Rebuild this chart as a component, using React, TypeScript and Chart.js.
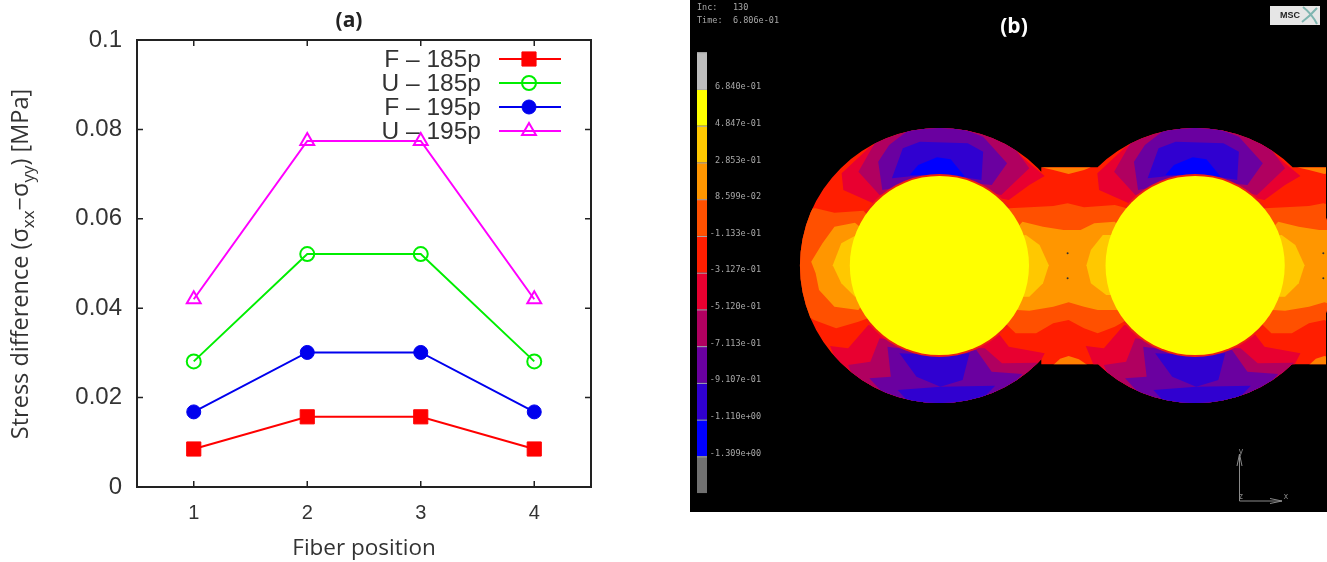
import React, { useEffect, useRef } from "react";
import { Chart, registerables } from "chart.js";
import { drawPoint } from "chart.js/helpers";

Chart.register(...registerables);

// ---------- panel (a) ----------
const fiberPositions = ["1", "2", "3", "4"];
const f185 = [0.0085, 0.0157, 0.0157, 0.0085];
const u185 = [0.0281, 0.0521, 0.0521, 0.0281];
const f195 = [0.0168, 0.0301, 0.0301, 0.0168];
const u195 = [0.042, 0.0774, 0.0774, 0.042];
const seriesNames = ["F – 185p", "U – 185p", "F – 195p", "U – 195p"];
const yTicks = [0, 0.02, 0.04, 0.06, 0.08, 0.1];

// ---------- panel (b) ----------
const barColors = ["#bdbdbd", "#ffff00", "#ffc800", "#ff9600", "#ff5000", "#ff1e00", "#e80030", "#b00060", "#6a00a0", "#3000d0", "#0000ff", "#707070"];
const barLabels = ["6.840e-01", "4.847e-01", "2.853e-01", "8.599e-02", "-1.133e-01", "-3.127e-01", "-5.120e-01", "-7.113e-01", "-9.107e-01", "-1.110e+00", "-1.309e+00"];
const cellShift = [0, 748];
const fiberX = [437, 1185];
const fiberY = 436.5;

type P = [number, number];
const baseRect: P[] = [[0, 0], [1570, 0], [1570, 870], [0, 870]];

const topCrimson: P[] = [[234, 80], [151, 160], [156, 210], [243, 250], [437, 200], [640, 240], [700, 195], [745, 168], [700, 130], [640, 75], [437, 0]];
const topMagenta: P[] = [[250, 65], [200, 155], [262, 225], [437, 190], [618, 225], [700, 145], [640, 60], [437, 0]];
const topPurple: P[] = [[258, 125], [270, 210], [437, 180], [590, 195], [635, 130], [565, 50], [500, 25], [437, 20], [350, 28], [290, 75]];
const topViolet: P[] = [[330, 85], [298, 175], [437, 160], [560, 180], [565, 95], [520, 70], [380, 65]];
const topBlue: P[] = [[350, 165], [375, 135], [430, 112], [470, 118], [512, 170]];

const botCrimson: P[] = [[117, 678], [170, 685], [229, 615], [437, 650], [610, 640], [640, 680], [745, 700], [700, 790], [437, 900], [170, 810]];
const botMagenta: P[] = [[170, 735], [235, 725], [262, 655], [437, 680], [570, 685], [620, 730], [725, 728], [700, 810], [437, 900], [200, 810]];
const botPurple: P[] = [[232, 775], [295, 770], [285, 680], [437, 700], [545, 690], [590, 755], [680, 762], [620, 830], [437, 900], [300, 850]];
const botVioletA: P[] = [[320, 700], [437, 705], [525, 700], [505, 780], [440, 800], [370, 770]];
const botVioletB: P[] = [[315, 810], [440, 800], [600, 797], [560, 840], [437, 870], [350, 850]];

const stripOrangeRed: P[] = [[640, 265], [700, 262], [770, 258], [812, 250], [860, 262], [950, 255], [985, 265], [985, 600], [950, 620], [900, 640], [860, 625], [815, 600], [770, 610], [720, 640], [660, 640], [620, 600], [620, 300]];
const stripOrange: P[] = [[680, 305], [740, 320], [800, 330], [850, 330], [890, 310], [950, 305], [980, 340], [980, 540], [960, 570], [900, 570], [860, 560], [815, 547], [770, 560], [700, 572], [665, 570], [640, 500], [640, 350]];
const stripGoldRight: P[] = [[690, 345], [730, 375], [757, 436], [740, 490], [700, 530], [660, 530], [650, 350]];
const stripGoldLeft: P[] = [[915, 345], [880, 390], [867, 436], [880, 490], [925, 525], [965, 525], [965, 345]];
const stripNotchTop: P[] = [[735, 142], [880, 142], [860, 150], [815, 162], [770, 150]];
const stripNotchBottom: P[] = [[770, 735], [790, 716], [815, 708], [845, 718], [870, 735]];

const capOrangeRed: P[] = [[10, 270], [75, 265], [130, 278], [215, 272], [240, 300], [240, 590], [200, 605], [135, 625], [70, 600], [10, 560]];
const capOrange: P[] = [[190, 308], [130, 320], [95, 370], [62, 425], [75, 460], [85, 510], [130, 560], [200, 570], [250, 500], [240, 350]];
const capGold: P[] = [[195, 345], [150, 370], [125, 436], [150, 490], [190, 530], [240, 500], [240, 370]];

const specks: P[] = [[812, 400], [812, 475], [1560, 400], [1560, 475]];

const shifted = (pts: P[], dx: number) => pts.map(([x, y]) => ({ x: x + dx, y }));

function poly(pts: P[], color: string) {
  return { type: "scatter" as const, data: shifted(pts, 0), backgroundColor: color, borderWidth: 0, borderColor: color, showLine: true, fill: "shape", pointRadius: 0, tension: 0 };
}
function polys(pts: P[], color: string) {
  return cellShift.map((dx) => ({ ...poly(pts, color), data: shifted(pts, dx) }));
}
function ring(r: number, color: string) {
  return { type: "bubble" as const, data: fiberX.map((x) => ({ x, y: fiberY, r })), backgroundColor: color, borderWidth: 0, borderColor: color };
}

const uiFont = "'Liberation Sans', Arial, sans-serif";
const titleFont = "'Open Sans', sans-serif";

const insideTicks = {
  id: "insideTicks",
  afterDatasetsDraw(chart: any) {
    const { ctx, chartArea: a, scales } = chart;
    ctx.save();
    ctx.strokeStyle = "#222";
    ctx.lineWidth = 2;
    ctx.strokeRect(a.left, a.top, a.right - a.left, a.bottom - a.top);
    ctx.lineWidth = 1.5;
    ctx.beginPath();
    fiberPositions.forEach((_, i) => {
      const x = scales.x.getPixelForValue(i);
      ctx.moveTo(x, a.bottom); ctx.lineTo(x, a.bottom - 6);
      ctx.moveTo(x, a.top); ctx.lineTo(x, a.top + 6);
    });
    yTicks.forEach((v) => {
      const y = scales.y.getPixelForValue(v);
      ctx.moveTo(a.left, y); ctx.lineTo(a.left + 6, y);
      ctx.moveTo(a.right, y); ctx.lineTo(a.right - 6, y);
    });
    ctx.stroke();
    ctx.restore();
  },
};

const gnuplotKey = {
  id: "gnuplotKey",
  afterDatasetsDraw(chart: any) {
    const { ctx } = chart;
    ctx.save();
    chart.data.datasets.forEach((d: any, i: number) => {
      const y = 59 + i * 24;
      ctx.font = `24.5px ${uiFont}`;
      ctx.fillStyle = "#333";
      ctx.textAlign = "right";
      ctx.textBaseline = "middle";
      ctx.fillText(seriesNames[i], 481, y + 1);
      ctx.strokeStyle = d.borderColor;
      ctx.lineWidth = 2;
      ctx.beginPath(); ctx.moveTo(499, y); ctx.lineTo(561, y); ctx.stroke();
      ctx.fillStyle = d.pointBackgroundColor;
      ctx.strokeStyle = d.pointBorderColor;
      ctx.lineWidth = d.pointBorderWidth;
      drawPoint(ctx, { pointStyle: d.pointStyle, radius: d.pointRadius, rotation: 0, borderWidth: d.pointBorderWidth }, 529, y);
    });
    ctx.restore();
  },
};

const panelATitle = {
  id: "panelATitle",
  afterDraw(chart: any) {
    const { ctx } = chart;
    ctx.save();
    ctx.fillStyle = "#222";
    ctx.font = `bold 21px ${titleFont}`;
    ctx.textAlign = "center";
    ctx.textBaseline = "middle";
    ctx.fillText("(a)", 349, 21);
    ctx.restore();
  },
};

const stressAxisTitle = {
  id: "stressAxisTitle",
  afterDraw(chart: any) {
    const { ctx } = chart;
    const main = `23.5px ${titleFont}`;
    const sub = `17px ${titleFont}`;
    const pieces: [string, string, number][] = [
      ["Stress difference (σ", main, 0],
      ["xx", sub, 6],
      ["−σ", main, 0],
      ["yy", sub, 6],
      [") [MPa]", main, 0],
    ];
    ctx.save();
    ctx.fillStyle = "#333";
    ctx.textBaseline = "alphabetic";
    ctx.textAlign = "left";
    let total = 0;
    pieces.forEach(([t, f]) => { ctx.font = f; total += ctx.measureText(t).width; });
    ctx.translate(28, 264);
    ctx.rotate(-Math.PI / 2);
    let x = -total / 2;
    pieces.forEach(([t, f, dy]) => {
      ctx.font = f;
      ctx.fillText(t, x, dy);
      x += ctx.measureText(t).width;
    });
    ctx.restore();
  },
};

const shapeClip = {
  id: "shapeClip",
  beforeDatasetsDraw(chart: any) {
    const { ctx, scales } = chart;
    ctx.save();
    ctx.beginPath();
    const cy = scales.y.getPixelForValue(fiberY);
    fiberX.forEach((fx) => {
      const cx = scales.x.getPixelForValue(fx);
      ctx.moveTo(cx + 139.5, cy);
      ctx.ellipse(cx, cy, 139.5, 137.6, 0, 0, Math.PI * 2);
    });
    const top = scales.y.getPixelForValue(142);
    const bottom = scales.y.getPixelForValue(733);
    const left = scales.x.getPixelForValue(735);
    ctx.rect(left, top, chart.width - left - 1, bottom - top);
    ctx.clip();
  },
  afterDatasetsDraw(chart: any) {
    chart.ctx.restore();
  },
};

const solverOverlay = {
  id: "solverOverlay",
  beforeDraw(chart: any) {
    const { ctx, width, height } = chart;
    ctx.save();
    ctx.fillStyle = "#000";
    ctx.fillRect(0, 0, width, height);
    ctx.restore();
  },
  afterDraw(chart: any) {
    const { ctx } = chart;
    ctx.save();
    // colour bar
    const barX = 7, barW = 10, barTop = 52.3, seg = 36.73;
    barColors.forEach((c, i) => {
      ctx.fillStyle = c;
      ctx.fillRect(barX, barTop + i * seg, barW, seg);
      ctx.fillStyle = "#a8a8a8";
      ctx.fillRect(barX, barTop + i * seg, barW, 1);
    });
    ctx.font = "8.5px 'DejaVu Sans Mono', monospace";
    ctx.textAlign = "right";
    ctx.textBaseline = "middle";
    ctx.fillStyle = "#a8a8a8";
    barLabels.forEach((t, i) => ctx.fillText(t, 71, 87 + i * 36.65));
    // header
    ctx.textAlign = "left";
    ctx.fillText("Inc:", 7, 8);
    ctx.fillText("130", 43, 8);
    ctx.fillText("Time:", 7, 21);
    ctx.fillText("6.806e-01", 43, 21);
    // panel title
    ctx.fillStyle = "#fff";
    ctx.font = `bold 21px ${titleFont}`;
    ctx.textAlign = "center";
    ctx.fillText("(b)", 324, 27);
    // logo
    ctx.fillStyle = "#e6e6e6";
    ctx.fillRect(580, 6, 50, 19);
    ctx.strokeStyle = "#7fb5b0";
    ctx.lineWidth = 2;
    ctx.beginPath();
    ctx.moveTo(613, 7); ctx.quadraticCurveTo(622, 14, 627, 24);
    ctx.moveTo(627, 8); ctx.quadraticCurveTo(620, 16, 612, 22);
    ctx.stroke();
    ctx.fillStyle = "#222";
    ctx.font = `bold 9px ${uiFont}`;
    ctx.textAlign = "left";
    ctx.fillText("MSC", 590, 16);
    // axes triad
    ctx.strokeStyle = "#8a8a8a";
    ctx.fillStyle = "#8a8a8a";
    ctx.lineWidth = 1;
    ctx.beginPath();
    ctx.moveTo(549.5, 501); ctx.lineTo(549.5, 454);
    ctx.moveTo(549.5, 501); ctx.lineTo(592, 501);
    ctx.moveTo(547, 466); ctx.lineTo(549.5, 454); ctx.lineTo(552, 466);
    ctx.moveTo(580, 498.5); ctx.lineTo(592, 501); ctx.lineTo(580, 503.5);
    ctx.stroke();
    ctx.font = "8px 'DejaVu Sans Mono', monospace";
    ctx.textAlign = "center";
    ctx.fillText("y", 551, 452);
    ctx.fillText("x", 596, 497);
    ctx.fillText("z", 551, 497);
    ctx.restore();
  },
};

export default function App() {
  const leftRef = useRef<HTMLCanvasElement | null>(null);
  const rightRef = useRef<HTMLCanvasElement | null>(null);

  useEffect(() => {
    document.body.style.margin = "0";
    const line = (data: number[], color: string, pointStyle: string, radius: number, filled: boolean) => ({
      data,
      borderColor: color,
      borderWidth: 2,
      tension: 0,
      pointStyle,
      pointRadius: radius,
      pointBorderColor: color,
      pointBorderWidth: filled ? 1 : 2,
      pointBackgroundColor: filled ? color : "rgba(0,0,0,0)",
    });
    const left = new Chart(leftRef.current!, {
      type: "line",
      data: {
        labels: fiberPositions,
        datasets: [
          line(f185, "#ff0000", "rect", 10, true),
          line(u185, "#00ee00", "circle", 7, false),
          line(f195, "#0000ee", "circle", 7, true),
          line(u195, "#ff00ff", "triangle", 8, false),
        ] as any,
      },
      plugins: [insideTicks, gnuplotKey, panelATitle, stressAxisTitle],
      options: {
        animation: false,
        responsive: false,
        events: [],
        layout: { padding: { left: 0, top: 40, right: 105, bottom: 0 } },
        plugins: { legend: { display: false }, tooltip: { enabled: false } },
        scales: {
          x: {
            type: "category",
            offset: true,
            grid: { display: false },
            border: { display: false },
            ticks: { color: "#333", font: { family: uiFont, size: 20 }, padding: 6, maxRotation: 0 },
            title: { display: true, text: "Fiber position", color: "#333", font: { family: titleFont, size: 22.5 }, padding: { top: 10, bottom: 0 } },
            afterFit: (s: any) => { s.height = 75; },
          },
          y: {
            type: "linear",
            min: 0,
            max: 0.1,
            afterBuildTicks: (s: any) => { s.ticks = yTicks.map((value) => ({ value })); },
            grid: { display: false },
            border: { display: false },
            ticks: { color: "#333", font: { family: uiFont, size: 24 }, padding: 7, callback: (v: any) => String(+Number(v).toFixed(2)) },
            afterFit: (s: any) => { s.width = 137; },
          },
        },
      } as any,
    });

    const right = new Chart(rightRef.current!, {
      type: "scatter",
      data: {
        datasets: [
          { type: "scatter", data: specks.map(([x, y]) => ({ x, y })), pointRadius: 1, backgroundColor: "#333", borderWidth: 0, showLine: false, order: 0 },
          { ...ring(89.6, "#ffff00"), order: 1 },
          ...[
            ...polys(stripGoldRight, "#ffc800"),
            poly(capGold, "#ffc800"),
            ...polys(stripGoldLeft, "#ffc800"),
            ...polys(stripOrange, "#ff9600"),
            poly(capOrange, "#ff9600"),
            ...polys(stripOrangeRed, "#ff5000"),
            poly(capOrangeRed, "#ff5000"),
            ring(91.4, "#f02010"),
            ...polys(stripNotchTop, "#ff8000"),
            ...polys(stripNotchBottom, "#ff8000"),
            ...polys(topBlue, "#0000ff"),
            ...polys(botVioletA, "#3000d0"),
            ...polys(botVioletB, "#3000d0"),
            ...polys(topViolet, "#3000d0"),
            ...polys(botPurple, "#6a00a0"),
            ...polys(topPurple, "#6a00a0"),
            ...polys(botMagenta, "#b00060"),
            ...polys(topMagenta, "#b00060"),
            ...polys(botCrimson, "#e80030"),
            ...polys(topCrimson, "#e80030"),
            poly(baseRect, "#ff1e00"),
          ].map((d, i) => ({ ...d, order: i + 2 })),
        ] as any,
      },
      plugins: [shapeClip, solverOverlay],
      options: {
        animation: false,
        responsive: false,
        events: [],
        layout: { padding: 0, autoPadding: false },
        plugins: { legend: { display: false }, tooltip: { enabled: false } },
        scales: {
          x: { type: "linear", display: false, min: -292.5, max: 1570.7 },
          y: { type: "linear", display: false, reverse: true, min: -360, max: 1176 },
        },
      } as any,
    });
    return () => { left.destroy(); right.destroy(); };
  }, []);

  return (
    <div style={{ position: "absolute", left: 0, top: 0, width: 1327, height: 562, background: "#fff", overflow: "hidden" }}>
      <canvas ref={leftRef} width={696} height={562} style={{ position: "absolute", left: 0, top: 0, width: 696, height: 562 }} />
      <canvas ref={rightRef} width={637} height={512} style={{ position: "absolute", left: 690, top: 0, width: 637, height: 512 }} />
    </div>
  );
}
